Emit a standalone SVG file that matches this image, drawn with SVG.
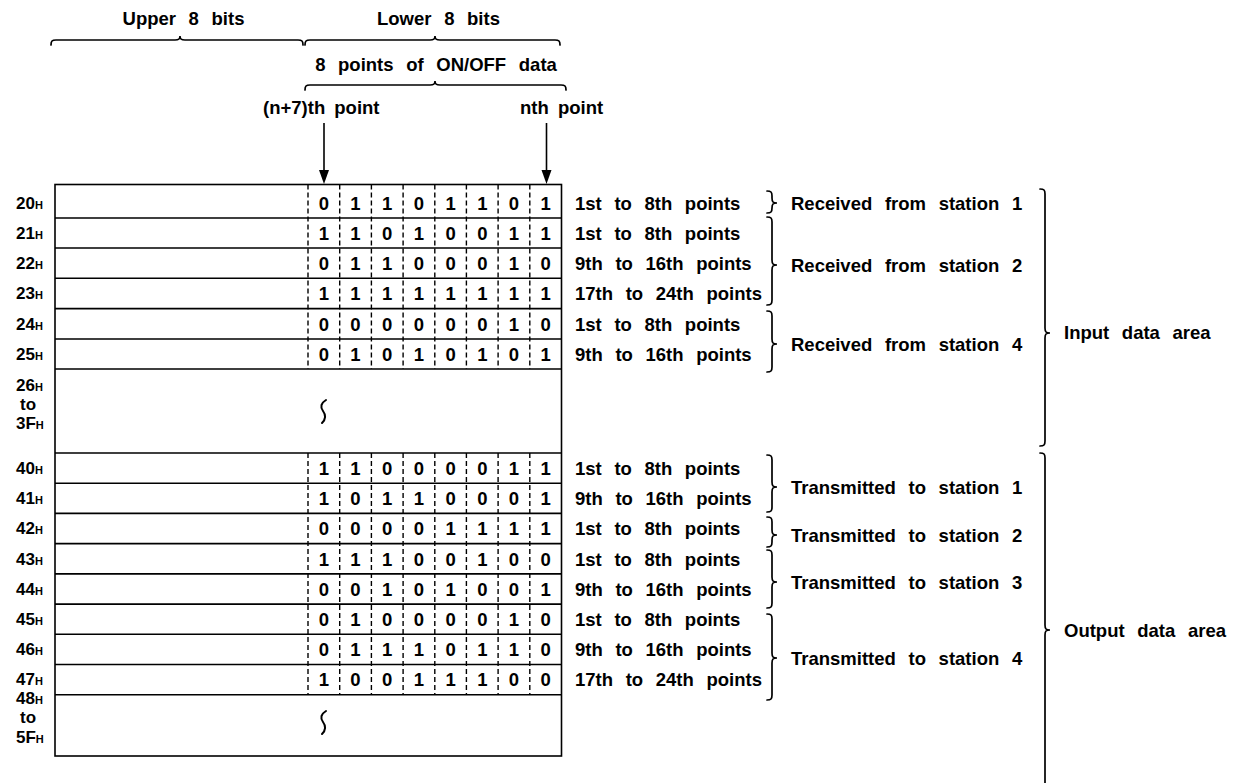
<svg xmlns="http://www.w3.org/2000/svg" width="1243" height="783" viewBox="0 0 1243 783">
<style>
text{font-family:"Liberation Sans",Arial,sans-serif;font-weight:bold;font-size:18.5px;fill:#000;word-spacing:7.5px}
.bit{text-anchor:middle;word-spacing:0}
.lbl{font-size:17px;word-spacing:0}
.sub{font-size:11px}
.c{text-anchor:middle}
.pt{word-spacing:4px}
.ln{stroke:#000;stroke-width:1.6;fill:none}
.dash{stroke:#000;stroke-width:1.4;fill:none;stroke-dasharray:5 3}
.br{stroke:#000;stroke-width:1.7;fill:none;stroke-linecap:round}
.wave{stroke:#000;stroke-width:2;fill:none;stroke-linecap:round}
</style>

<g id="header">
<text class="c" x="183.5" y="25">Upper 8 bits</text>
<text class="c" x="438.5" y="25">Lower 8 bits</text>
<path class="br" d="M51,45 C51,41 52,40 56,40 L175,40 C179,40 180,39 180,36 C180,39 181,40 185,40 L298,40 C302,40 303,41 303,45"/>
<path class="br" d="M305,45 C305,41 306,40 310,40 L430,40 C434,40 435,39 435,36 C435,39 436,40 440,40 L555,40 C559,40 560,41 560,45"/>
<text class="c" x="436" y="71">8 points of ON/OFF data</text>
<path class="br" d="M305,90 C305,86 306,85 310,85 L430,85 C434,85 435,84 435,81 C435,84 436,85 440,85 L561,85 C565,85 566,86 566,90"/>
<text class="pt" x="263" y="114">(n+7)th point</text>
<text class="pt" x="520" y="114">nth point</text>
</g>

<g id="connectors">
<line class="ln" x1="324" y1="123" x2="324" y2="171"/>
<path d="M319,170 L329,170 L324,184 Z" fill="#000"/>
<line class="ln" x1="546.5" y1="123" x2="546.5" y2="171"/>
<path d="M541.5,170 L551.5,170 L546.5,184 Z" fill="#000"/>
</g>

<g id="table">
<rect class="ln" x="55" y="184.5" width="506.5" height="571.5"/>
<path class="ln" d="M55,218H561.5M55,248H561.5M55,278.3H561.5M55,308.6H561.5M55,339H561.5M55,369H561.5M55,453H561.5M55,483.2H561.5M55,513.4H561.5M55,543.6H561.5M55,573.9H561.5M55,604.1H561.5M55,634.3H561.5M55,664.5H561.5M55,694.7H561.5"/>
<path class="dash" d="M308,184.5V369M339.7,184.5V369M371.4,184.5V369M403.1,184.5V369M434.8,184.5V369M466.4,184.5V369M498.1,184.5V369M529.8,184.5V369"/>
<path class="dash" d="M308,453V694.7M339.7,453V694.7M371.4,453V694.7M403.1,453V694.7M434.8,453V694.7M466.4,453V694.7M498.1,453V694.7M529.8,453V694.7"/>
<path class="wave" d="M326,400 C321,403 320,407 323,411 C326,415 326,419 322,423"/>
<path class="wave" d="M326,711 C321,714 320,718 323,722 C326,726 326,730 322,734"/>
</g>

<g id="addresses">
<text class="lbl" x="16" y="209">20<tspan class="sub">H</tspan></text>
<text class="lbl" x="16" y="239">21<tspan class="sub">H</tspan></text>
<text class="lbl" x="16" y="269">22<tspan class="sub">H</tspan></text>
<text class="lbl" x="16" y="299">23<tspan class="sub">H</tspan></text>
<text class="lbl" x="16" y="330">24<tspan class="sub">H</tspan></text>
<text class="lbl" x="16" y="360">25<tspan class="sub">H</tspan></text>
<text class="lbl" x="16" y="391">26<tspan class="sub">H</tspan></text>
<text class="lbl" x="20" y="410">to</text>
<text class="lbl" x="16" y="429">3F<tspan class="sub">H</tspan></text>
<text class="lbl" x="16" y="474">40<tspan class="sub">H</tspan></text>
<text class="lbl" x="16" y="504">41<tspan class="sub">H</tspan></text>
<text class="lbl" x="16" y="534">42<tspan class="sub">H</tspan></text>
<text class="lbl" x="16" y="565">43<tspan class="sub">H</tspan></text>
<text class="lbl" x="16" y="595">44<tspan class="sub">H</tspan></text>
<text class="lbl" x="16" y="625">45<tspan class="sub">H</tspan></text>
<text class="lbl" x="16" y="655">46<tspan class="sub">H</tspan></text>
<text class="lbl" x="16" y="685">47<tspan class="sub">H</tspan></text>
<text class="lbl" x="16" y="704">48<tspan class="sub">H</tspan></text>
<text class="lbl" x="20" y="723">to</text>
<text class="lbl" x="16" y="743">5F<tspan class="sub">H</tspan></text>
</g>

<g id="bits">
<text class="bit" x="323.8 355.5 387.2 418.9 450.6 482.3 514 545.7" y="210">01101101</text>
<text class="bit" x="323.8 355.5 387.2 418.9 450.6 482.3 514 545.7" y="240">11010011</text>
<text class="bit" x="323.8 355.5 387.2 418.9 450.6 482.3 514 545.7" y="270">01100010</text>
<text class="bit" x="323.8 355.5 387.2 418.9 450.6 482.3 514 545.7" y="300">11111111</text>
<text class="bit" x="323.8 355.5 387.2 418.9 450.6 482.3 514 545.7" y="331">00000010</text>
<text class="bit" x="323.8 355.5 387.2 418.9 450.6 482.3 514 545.7" y="361">01010101</text>
<text class="bit" x="323.8 355.5 387.2 418.9 450.6 482.3 514 545.7" y="475">11000011</text>
<text class="bit" x="323.8 355.5 387.2 418.9 450.6 482.3 514 545.7" y="505">10110001</text>
<text class="bit" x="323.8 355.5 387.2 418.9 450.6 482.3 514 545.7" y="535">00001111</text>
<text class="bit" x="323.8 355.5 387.2 418.9 450.6 482.3 514 545.7" y="566">11100100</text>
<text class="bit" x="323.8 355.5 387.2 418.9 450.6 482.3 514 545.7" y="596">00101001</text>
<text class="bit" x="323.8 355.5 387.2 418.9 450.6 482.3 514 545.7" y="626">01000010</text>
<text class="bit" x="323.8 355.5 387.2 418.9 450.6 482.3 514 545.7" y="656">01110110</text>
<text class="bit" x="323.8 355.5 387.2 418.9 450.6 482.3 514 545.7" y="686">10011100</text>
</g>

<g id="points">
<text x="575" y="210">1st to 8th points</text>
<text x="575" y="240">1st to 8th points</text>
<text x="575" y="270">9th to 16th points</text>
<text x="575" y="300">17th to 24th points</text>
<text x="575" y="331">1st to 8th points</text>
<text x="575" y="361">9th to 16th points</text>
<text x="575" y="475">1st to 8th points</text>
<text x="575" y="505">9th to 16th points</text>
<text x="575" y="535">1st to 8th points</text>
<text x="575" y="566">1st to 8th points</text>
<text x="575" y="596">9th to 16th points</text>
<text x="575" y="626">1st to 8th points</text>
<text x="575" y="656">9th to 16th points</text>
<text x="575" y="686">17th to 24th points</text>
</g>

<g id="stations">
<path class="br" d="M767,191 C771,191 772,192 772,196 L772,198 C772,202 773,203 777,203 C773,203 772,204 772,208 C772,212 771,213 767,213"/>
<path class="br" d="M767,217 C771,217 772,218 772,222 L772,260 C772,264 773,265 777,265 C773,265 772,266 772,270 L772,300 C772,304 771,305 767,305"/>
<path class="br" d="M767,311 C771,311 772,312 772,316 L772,339 C772,343 773,344 777,344 C773,344 772,345 772,349 L772,367 C772,371 771,372 767,372"/>
<path class="br" d="M767,455 C771,455 772,456 772,460 L772,482 C772,486 773,487 777,487 C773,487 772,488 772,492 L772,507 C772,511 771,512 767,512"/>
<path class="br" d="M767,517 C771,517 772,518 772,522 L772,530 C772,534 773,535 777,535 C773,535 772,536 772,540 L772,542 C772,546 771,547 767,547"/>
<path class="br" d="M767,550 C771,550 772,551 772,555 L772,577 C772,581 773,582 777,582 C773,582 772,583 772,587 L772,603 C772,607 771,608 767,608"/>
<path class="br" d="M767,614 C771,614 772,615 772,619 L772,653 C772,657 773,658 777,658 C773,658 772,659 772,663 L772,695 C772,699 771,700 767,700"/>
<text x="791" y="210">Received from station 1</text>
<text x="791" y="272">Received from station 2</text>
<text x="791" y="351">Received from station 4</text>
<text x="791" y="494">Transmitted to station 1</text>
<text x="791" y="542">Transmitted to station 2</text>
<text x="791" y="589">Transmitted to station 3</text>
<text x="791" y="665">Transmitted to station 4</text>
</g>

<g id="areas">
<path class="br" d="M1040,189 C1044,189 1045,190 1045,194 L1045,328 C1045,332 1046,333 1050,333 C1046,333 1045,334 1045,338 L1045,441 C1045,445 1044,446 1040,446"/>
<path class="br" d="M1040,453 C1044,453 1045,454 1045,458 L1045,625 C1045,629 1046,630 1050,630 C1046,630 1045,631 1045,635 L1045,790"/>
<text x="1064" y="339">Input data area</text>
<text x="1064" y="637">Output data area</text>
</g>
</svg>
